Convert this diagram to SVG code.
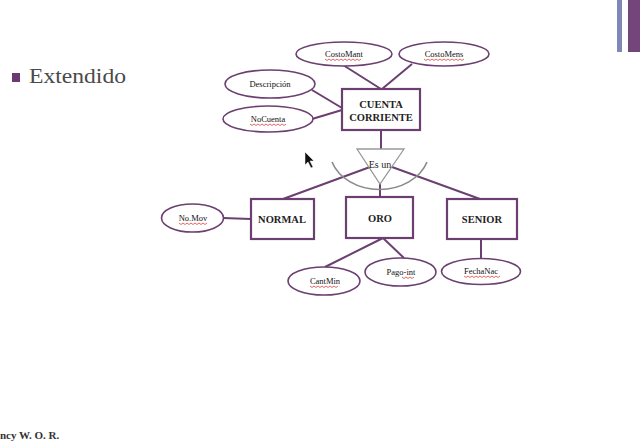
<svg xmlns="http://www.w3.org/2000/svg" width="640" height="445" viewBox="0 0 640 445">
<style>
.ent{fill:#fff;stroke:#6b3f70;stroke-width:2.2}
.att{fill:#fff;stroke:#6b3f70;stroke-width:1.6}
.ln{stroke:#6b3f70;stroke-width:2;fill:none}
.t{font-family:"Liberation Serif","DejaVu Serif",serif;fill:#222;text-anchor:middle}
.et{font-size:10.5px;font-weight:bold}
.at{font-size:8.5px;fill:#111}
.sq{stroke:#e04040;stroke-width:0.8;fill:none}
</style>
<rect width="640" height="445" fill="#fff"/>
<rect x="617" y="0" width="5" height="52" fill="#7f86b8"/>
<rect x="628" y="0" width="12" height="52" fill="#74457a"/>
<rect x="12" y="73" width="8" height="9" fill="#6b3a73"/>
<text x="29" y="83" font-family="Liberation Serif,serif" font-size="21" fill="#4a4a4a" textLength="97" lengthAdjust="spacingAndGlyphs">Extendido</text>
<text x="0" y="439" font-family="Liberation Serif,serif" font-size="11" font-weight="bold" fill="#333">ncy W. O. R.</text>
<g id="connectors">
<line class="ln" x1="343" y1="65" x2="381" y2="89"/>
<line class="ln" x1="412" y1="64" x2="382" y2="89"/>
<line class="ln" x1="312" y1="90" x2="342" y2="108"/>
<line class="ln" x1="312" y1="119" x2="342" y2="110"/>
<line class="ln" x1="381" y1="130" x2="381" y2="150"/>
<line class="ln" x1="370" y1="167" x2="283" y2="199"/>
<line class="ln" x1="392" y1="167" x2="480" y2="199"/>
<line class="ln" x1="380" y1="183" x2="380" y2="197"/>
<line class="ln" x1="223" y1="218" x2="251" y2="219"/>
<line class="ln" x1="383" y1="238" x2="325" y2="267"/>
<line class="ln" x1="383" y1="238" x2="404" y2="258"/>
<line class="ln" x1="481" y1="239" x2="481" y2="258"/>
</g>
<g id="isa">
<polygon points="357,149 404,149 380,184" fill="#fff" stroke="#999" stroke-width="1.3"/>
<path d="M332,162 A50,40 0 0 0 427,162" fill="none" stroke="#8a8a8a" stroke-width="1.6"/>
<text class="t" x="380" y="168" font-size="10">Es un</text>
</g>
<g id="cuenta">
<rect class="ent" x="342" y="89" width="78" height="41"/>
<text class="t et" x="381" y="108">CUENTA</text>
<text class="t et" x="381" y="121">CORRIENTE</text>
</g>
<g id="costomant">
<ellipse class="att" cx="344" cy="54" rx="48" ry="12"/>
<text class="t at" x="344" y="57">CostoMant</text>
<path class="sq" d="M325,59 l2,1.5 l2,-1.5 l2,1.5 l2,-1.5 l2,1.5 l2,-1.5 l2,1.5 l2,-1.5 l2,1.5 l2,-1.5 l2,1.5 l2,-1.5 l2,1.5 l2,-1.5 l2,1.5 l2,-1.5 l2,1.5 l2,-1.5"/>
</g>
<g id="costomens">
<ellipse class="att" cx="444" cy="54" rx="45" ry="12"/>
<text class="t at" x="444" y="57">CostoMens</text>
<path class="sq" d="M424,59 l2,1.5 l2,-1.5 l2,1.5 l2,-1.5 l2,1.5 l2,-1.5 l2,1.5 l2,-1.5 l2,1.5 l2,-1.5 l2,1.5 l2,-1.5 l2,1.5 l2,-1.5 l2,1.5 l2,-1.5 l2,1.5 l2,-1.5 l2,1.5 l2,-1.5"/>
</g>
<g id="descripcion">
<ellipse class="att" cx="270" cy="84" rx="45" ry="14"/>
<text class="t at" x="270" y="87">Descripción</text>
</g>
<g id="nocuenta">
<ellipse class="att" cx="268" cy="119" rx="45" ry="13"/>
<text class="t at" x="268" y="122">NoCuenta</text>
<path class="sq" d="M250,124 l2,1.5 l2,-1.5 l2,1.5 l2,-1.5 l2,1.5 l2,-1.5 l2,1.5 l2,-1.5 l2,1.5 l2,-1.5 l2,1.5 l2,-1.5 l2,1.5 l2,-1.5 l2,1.5 l2,-1.5 l2,1.5 l2,-1.5"/>
</g>
<g id="normal">
<rect class="ent" x="251" y="199" width="63" height="40"/>
<text class="t et" x="282" y="223" font-size="10">NORMAL</text>
</g>
<g id="oro">
<rect class="ent" x="346" y="197" width="67" height="41"/>
<text class="t et" x="380" y="222" font-size="10">ORO</text>
</g>
<g id="senior">
<rect class="ent" x="447" y="199" width="70" height="40"/>
<text class="t et" x="482" y="223" font-size="10">SENIOR</text>
</g>
<g id="nomov">
<ellipse class="att" cx="192.5" cy="218" rx="31" ry="14"/>
<text class="t at" x="193" y="221">No.Mov</text>
<path class="sq" d="M179,223 l2,1.5 l2,-1.5 l2,1.5 l2,-1.5 l2,1.5 l2,-1.5 l2,1.5 l2,-1.5 l2,1.5 l2,-1.5 l2,1.5 l2,-1.5 l2,1.5 l2,-1.5"/>
</g>
<g id="cantmin">
<ellipse class="att" cx="324" cy="281" rx="36" ry="14"/>
<text class="t at" x="325" y="284">CantMin</text>
<path class="sq" d="M310,286 l2,1.5 l2,-1.5 l2,1.5 l2,-1.5 l2,1.5 l2,-1.5 l2,1.5 l2,-1.5 l2,1.5 l2,-1.5 l2,1.5 l2,-1.5 l2,1.5 l2,-1.5"/>
</g>
<g id="pagoint">
<ellipse class="att" cx="400.5" cy="272" rx="35.5" ry="14"/>
<text class="t at" x="401" y="275">Pago-int</text>
<path class="sq" d="M402,277 l2,1.5 l2,-1.5 l2,1.5 l2,-1.5 l2,1.5 l2,-1.5"/>
</g>
<g id="fechanac">
<ellipse class="att" cx="481" cy="271.5" rx="39.5" ry="13"/>
<text class="t at" x="481" y="274">FechaNac</text>
<path class="sq" d="M464,276 l2,1.5 l2,-1.5 l2,1.5 l2,-1.5 l2,1.5 l2,-1.5 l2,1.5 l2,-1.5 l2,1.5 l2,-1.5 l2,1.5 l2,-1.5 l2,1.5 l2,-1.5 l2,1.5 l2,-1.5 l2,1.5 l2,-1.5"/>
</g>
<polygon points="305,152 305,165 308,162 311,168 313,167 310,161 314,161" fill="#111" stroke="#fff" stroke-width="0.5"/>
</svg>
